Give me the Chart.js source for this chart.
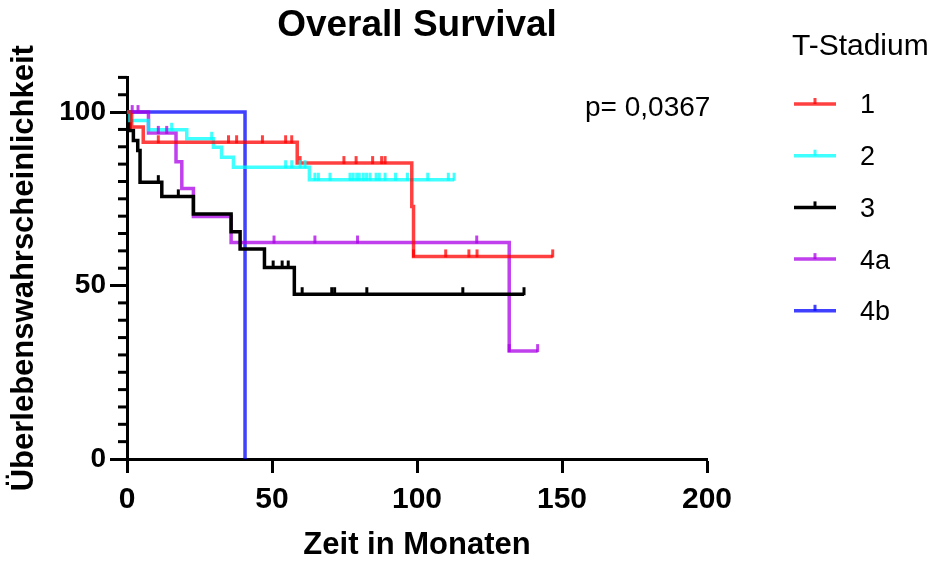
<!DOCTYPE html>
<html>
<head>
<meta charset="utf-8">
<title>Overall Survival</title>
<script src="https://cdn.jsdelivr.net/npm/chart.js@4.4.1/dist/chart.umd.min.js"></script>
<style>
  html, body { margin: 0; padding: 0; background: #fff; }
  #wrap { width: 938px; height: 561px; }
</style>
</head>
<body>
<div id="wrap"><canvas id="osChart" width="938" height="561"></canvas></div>
<script>
const FONT = "'Liberation Sans', Arial, sans-serif";

// Kaplan-Meier-Stufen je T-Stadium: Zeitpunkt (Monate) und Überleben (%) danach
const t1Zeit = [0, 1.6, 5.6, 58.7, 98.2, 98.8, 146.8];
const t1Wert = [100, 95.7, 91.3, 85.3, 72.8, 58.4, 58.4];
const t1Zensiert = [10.8, 35, 37.8, 46.7, 54.7, 56.8, 59.7, 74.8, 79, 84.7, 87.8, 89, 98.8, 109.9, 117.9, 120.7, 146.8];

const t2Zeit = [0, 1.0, 7.4, 20.6, 29.8, 32.6, 36.7, 62.9, 112.8];
const t2Wert = [100, 97.6, 94.9, 92.3, 89.9, 87.0, 84.1, 80.5, 80.5];
const t2Zensiert = [15.4, 29.2, 54.7, 56.8, 59.7, 61.4, 64.8, 66, 70, 76.9, 78, 79.2, 80.1, 81.5, 82.6, 83.8, 85.9, 87, 89, 92.6, 96.7, 103.7, 110.8, 112.8];

const t3Zeit = [0, 1.0, 2.2, 3.7, 4.5, 12.0, 22.9, 35.9, 39.0, 47.4, 57.7, 136.9];
const t3Wert = [100, 94.7, 91.8, 88.9, 79.8, 75.7, 70.6, 65.5, 60.5, 55.2, 47.5, 47.5];
const t3Zensiert = [10.8, 17.7, 50.4, 53.5, 55.6, 60.4, 70.6, 71.6, 82.7, 115.8, 136.9];

const t4aZeit = [0, 7.4, 16.9, 18.9, 22.9, 35.9, 131.8, 141.6];
const t4aWert = [100, 94.0, 85.7, 78.0, 69.9, 62.4, 31.1, 31.1];
const t4aZensiert = [1.8, 3.8, 10.8, 13.7, 50.7, 64.8, 79.5, 120.6, 131.8, 141.6];

const t4bZeit = [0, 40.7];
const t4bWert = [100, 0];
const t4bZensiert = [];

const xTicks = [0, 50, 100, 150, 200];
const yTicks = [0, 50, 100];
const pWert = 'p= 0,0367';

const gruppen = [
  { name: '1',  zeit: t1Zeit,  wert: t1Wert,  zensiert: t1Zensiert,  farbe: 'rgba(255, 0, 0, 0.75)' },
  { name: '2',  zeit: t2Zeit,  wert: t2Wert,  zensiert: t2Zensiert,  farbe: 'rgba(0, 255, 255, 0.75)' },
  { name: '3',  zeit: t3Zeit,  wert: t3Wert,  zensiert: t3Zensiert,  farbe: '#000000' },
  { name: '4a', zeit: t4aZeit, wert: t4aWert, zensiert: t4aZensiert, farbe: 'rgba(170, 0, 230, 0.75)' },
  { name: '4b', zeit: t4bZeit, wert: t4bWert, zensiert: t4bZensiert, farbe: 'rgba(0, 0, 255, 0.75)' }
];

// Überleben zum Zeitpunkt t aus der Stufenfunktion
function ueberlebenBei(zeit, wert, t) {
  let s = wert[0];
  for (let i = 0; i < zeit.length; i++) {
    if (zeit[i] <= t) s = wert[i];
  }
  return s;
}

// Zensierungsstriche auf den Kurven
const zensurPlugin = {
  id: 'zensur',
  afterDatasetsDraw(chart) {
    const { ctx, scales: { x, y } } = chart;
    ctx.save();
    ctx.lineWidth = 3;
    gruppen.forEach(g => {
      ctx.strokeStyle = g.farbe;
      g.zensiert.forEach(t => {
        const px = x.getPixelForValue(t);
        const py = y.getPixelForValue(ueberlebenBei(g.zeit, g.wert, t));
        ctx.beginPath();
        ctx.moveTo(px, py + 1);
        ctx.lineTo(px, py - 7);
        ctx.stroke();
      });
    });
    ctx.restore();
  }
};

// kurze Zwischenstriche an der y-Achse, Legende und p-Wert
const extrasPlugin = {
  id: 'extras',
  afterDraw(chart) {
    const { ctx, chartArea, scales: { y } } = chart;
    ctx.save();
    ctx.strokeStyle = '#000';
    ctx.lineWidth = 3;
    y.ticks.forEach(tk => {
      if (yTicks.includes(tk.value)) return;
      const py = y.getPixelForValue(tk.value);
      ctx.beginPath();
      ctx.moveTo(chartArea.left, py);
      ctx.lineTo(chartArea.left - 9, py);
      ctx.stroke();
    });

    ctx.fillStyle = '#000';
    ctx.textBaseline = 'middle';
    ctx.font = '28px ' + FONT;
    ctx.fillText(pWert, chartArea.left + 458, 108);

    const lx = chartArea.right + 87;
    ctx.font = '30px ' + FONT;
    ctx.textBaseline = 'alphabetic';
    ctx.fillText('T-Stadium', lx - 2, 55);
    ctx.textBaseline = 'middle';
    ctx.font = '27px ' + FONT;
    gruppen.forEach((g, i) => {
      const ly = 104 + i * 51.7;
      ctx.strokeStyle = g.farbe;
      ctx.lineWidth = 3.5;
      ctx.beginPath();
      ctx.moveTo(lx, ly);
      ctx.lineTo(lx + 42, ly);
      ctx.stroke();
      ctx.lineWidth = 3;
      ctx.beginPath();
      ctx.moveTo(lx + 21, ly);
      ctx.lineTo(lx + 21, ly - 6);
      ctx.stroke();
      ctx.fillStyle = '#000';
      ctx.fillText(g.name, lx + 66, ly + 2);
    });
    ctx.restore();
  }
};

const ctxOS = document.getElementById('osChart').getContext('2d');
const osChart = new Chart(ctxOS, {
  type: 'line',
  data: {
    datasets: gruppen.map(g => ({
      label: g.name,
      data: g.zeit.map((t, i) => ({ x: t, y: g.wert[i] })),
      borderColor: g.farbe,
      borderWidth: 3.5,
      stepped: 'before',
      pointRadius: 0,
      tension: 0,
      fill: false,
      clip: false
    }))
  },
  options: {
    responsive: false,
    animation: false,
    layout: { padding: { left: 0, right: 231, top: 0, bottom: 0 } },
    plugins: {
      legend: { display: false },
      tooltip: { enabled: false },
      title: {
        display: true,
        text: 'Overall Survival',
        fullSize: false,
        color: '#000',
        font: { family: FONT, size: 37, weight: 'bold' },
        padding: { top: 4, bottom: 29 }
      }
    },
    scales: {
      x: {
        type: 'linear',
        min: 0,
        max: 200,
        border: { color: '#000', width: 3 },
        grid: { drawOnChartArea: false, tickLength: 14, tickWidth: 3, tickColor: '#000' },
        afterBuildTicks(scale) { scale.ticks = xTicks.map(v => ({ value: v })); },
        ticks: { padding: 9, color: '#000', font: { family: FONT, size: 30, weight: 'bold' } },
        title: {
          display: true,
          text: 'Zeit in Monaten',
          color: '#000',
          font: { family: FONT, size: 31, weight: 'bold' },
          padding: { top: -3, bottom: -3 }
        },
        afterFit(scale) { scale.height = 102; }
      },
      y: {
        min: 0,
        max: 110,
        border: { color: '#000', width: 3 },
        grid: {
          drawOnChartArea: false,
          tickLength: 17,
          tickWidth: 3,
          tickColor: c => yTicks.includes(c.tick.value) ? '#000' : 'rgba(0,0,0,0)'
        },
        ticks: {
          stepSize: 5,
          autoSkip: false,
          padding: 4,
          color: '#000',
          font: { family: FONT, size: 28, weight: 'bold' },
          callback: v => yTicks.includes(v) ? v : ''
        },
        title: {
          display: true,
          text: 'Überlebenswahrscheinlichkeit',
          color: '#000',
          font: { family: FONT, size: 31, weight: 'bold' },
          padding: { top: 6, bottom: 4 }
        },
        afterFit(scale) { scale.width = 127; }
      }
    }
  },
  plugins: [zensurPlugin, extrasPlugin]
});
</script>
</body>
</html>
